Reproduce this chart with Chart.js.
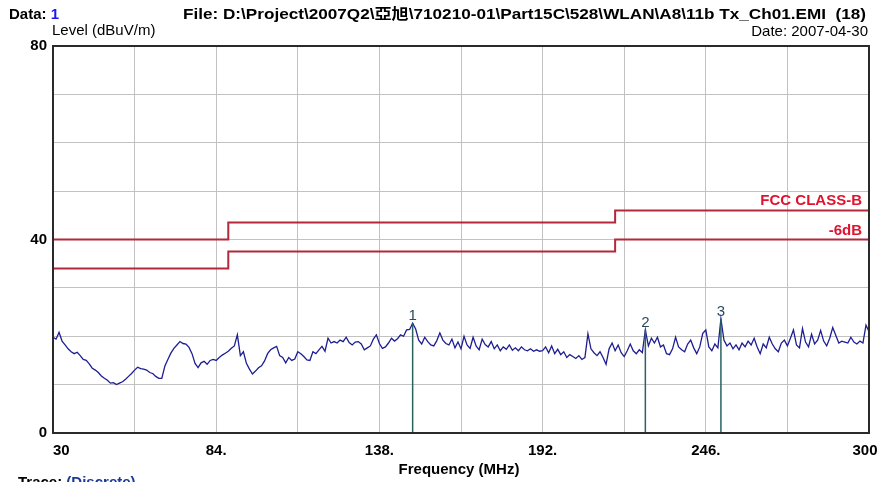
<!DOCTYPE html>
<html>
<head>
<meta charset="utf-8">
<script src="https://cdn.jsdelivr.net/npm/chart.js@4.4.0/dist/chart.umd.min.js"></script>
<style>
  html, body { margin: 0; padding: 0; background: #fff; }
  canvas { display: block; }
</style>
</head>
<body>
<canvas id="emiChart" width="881" height="482"></canvas>
<script>
// sweep: 30 MHz .. 300 MHz, one reading per MHz
const sweepStart = 30;
const sweepStep = 1;
const traceLevels = [
  19.8, 19.4, 20.8, 19.0, 18.2, 17.4, 16.8, 16.4, 16.7, 16.0, // 30
  15.2, 15.0, 14.3, 13.4, 13.0, 12.5, 11.8, 11.3, 10.9, 10.3, // 40
  10.4, 10.0, 10.3, 10.6, 11.1, 11.7, 12.3, 13.0, 13.6, 13.3, // 50
  13.2, 13.0, 12.5, 12.3, 11.7, 11.3, 11.3, 13.8, 15.2, 16.5, // 60
  17.5, 18.2, 18.9, 18.5, 18.4, 17.7, 16.4, 14.4, 13.5, 14.5, // 70
  14.8, 14.2, 15.0, 15.2, 15.0, 15.6, 16.1, 16.5, 16.9, 17.5, // 80
  18.0, 20.3, 16.0, 16.8, 14.4, 13.2, 12.2, 12.8, 13.5, 13.9, // 90
  14.9, 16.4, 17.2, 17.6, 17.9, 16.0, 15.6, 14.5, 15.6, 15.0, // 100
  15.3, 16.8, 16.4, 15.8, 15.1, 15.0, 16.8, 16.4, 17.2, 17.9, // 110
  16.9, 19.6, 18.6, 18.9, 18.6, 19.2, 18.9, 19.8, 18.7, 18.2, // 120
  18.8, 18.9, 18.4, 17.2, 17.6, 18.0, 19.4, 20.3, 18.5, 17.5, // 130
  17.8, 18.6, 19.6, 19.0, 19.5, 20.3, 20.0, 21.3, 21.4, 22.7, // 140
  21.5, 19.2, 18.4, 19.8, 18.9, 18.2, 18.0, 19.1, 20.7, 19.2, // 150
  18.5, 18.2, 19.4, 17.6, 18.8, 17.4, 20.0, 18.2, 17.5, 19.8, // 160
  18.0, 17.2, 19.4, 18.3, 17.8, 18.9, 17.4, 18.2, 17.0, 17.8, // 170
  17.3, 18.2, 17.1, 17.6, 17.0, 17.8, 17.2, 17.0, 17.4, 16.9, // 180
  17.2, 16.9, 17.0, 17.8, 16.6, 18.0, 16.4, 17.3, 16.2, 16.8, // 190
  15.6, 16.2, 15.8, 15.4, 16.0, 15.2, 15.6, 20.5, 17.4, 16.6, // 200
  16.0, 16.8, 15.6, 14.2, 17.4, 18.6, 17.0, 18.2, 16.6, 15.8, // 210
  17.0, 18.4, 17.0, 16.4, 17.2, 16.6, 21.3, 18.0, 19.6, 18.6, // 220
  19.8, 17.8, 18.2, 16.4, 16.2, 17.4, 19.8, 17.8, 17.2, 16.8, // 230
  18.4, 19.2, 17.6, 16.4, 17.8, 20.6, 21.3, 17.8, 17.0, 18.4, // 240
  17.6, 23.6, 19.2, 18.0, 18.6, 17.4, 18.2, 17.2, 18.6, 17.8, // 250
  19.0, 18.2, 19.6, 17.8, 16.4, 18.4, 17.6, 19.8, 18.4, 17.4, // 260
  16.8, 18.6, 19.2, 18.0, 19.6, 21.3, 18.2, 17.6, 21.6, 18.8, // 270
  17.8, 20.4, 18.4, 19.2, 21.2, 19.0, 18.0, 19.6, 21.8, 20.2, // 280
  18.6, 19.0, 18.8, 18.6, 19.8, 18.8, 18.4, 19.0, 18.6, 22.3, // 290
  21.0                                                        // 300
];

// FCC part 15 class B limit and the -6dB margin line (step edges in MHz)
const limitFreqs = [30, 88, 216, 300];
const fccClassB = [40, 43.5, 46, 46];
const margin6dB = [34, 37.5, 40, 40];

// marker peaks
const markerFreqs = [149, 226, 251];
const markerLevels = [22.7, 21.3, 23.6];
const markerNames = ['1', '2', '3'];

const xTickLabels = { 30: '30', 84: '84.', 138: '138.', 192: '192.', 246: '246.', 300: '300' };
const yTickLabels = [0, 40, 80];

const FONT = '"Liberation Sans", Arial, "Noto Sans CJK TC", sans-serif';

const traceData = traceLevels.map((v, i) => ({ x: sweepStart + i * sweepStep, y: v }));
const stepData = (levels) => limitFreqs.map((f, i) => ({ x: f, y: levels[i] }));

const markerSets = markerFreqs.map((f, i) => ({
  data: [{ x: f, y: 0 }, { x: f, y: markerLevels[i] }],
  borderColor: '#2a6262',
  borderWidth: 1.5,
  order: 0
}));

// frame, labels and header text
const decorations = {
  id: 'decorations',
  afterDraw(chart) {
    const c = chart.ctx;
    const area = chart.chartArea;
    const xs = chart.scales.x;
    const ys = chart.scales.y;

    c.save();
    c.strokeStyle = '#2a2a2a';
    c.lineWidth = 2;
    c.strokeRect(area.left, area.top, area.right - area.left, area.bottom - area.top);

    // x tick labels
    c.fillStyle = '#000';
    c.font = 'bold 15px ' + FONT;
    c.textBaseline = 'top';
    xs.ticks.forEach((t, i) => {
      const lbl = xTickLabels[t.value];
      if (!lbl) return;
      c.textAlign = i === 0 ? 'left' : 'center';
      c.fillText(lbl, xs.getPixelForValue(t.value) - (i === xs.ticks.length - 1 ? 4 : 0), area.bottom + 10);
    });

    // marker numbers
    c.font = '15px ' + FONT;
    c.fillStyle = '#2b4a5a';
    c.textAlign = 'center';
    c.textBaseline = 'alphabetic';
    markerFreqs.forEach((f, i) => {
      c.fillText(markerNames[i], xs.getPixelForValue(f), ys.getPixelForValue(markerLevels[i]) - 3);
    });

    // limit line names
    c.font = 'bold 15px ' + FONT;
    c.fillStyle = '#e0122e';
    c.textAlign = 'right';
    c.fillText('FCC CLASS-B', area.right - 7, ys.getPixelForValue(fccClassB[3]) - 5);
    c.fillText('-6dB', area.right - 7, ys.getPixelForValue(margin6dB[3]) - 5);

    // header
    c.textAlign = 'left';
    c.fillStyle = '#000';
    c.font = 'bold 15px ' + FONT;
    c.fillText('Data: ', 9, 19);
    c.fillStyle = '#1a1af0';
    c.fillText('1', 9 + c.measureText('Data: ').width, 19);

    const fileText = 'File: D:\\Project\\2007Q2\\亞旭\\710210-01\\Part15C\\528\\WLAN\\A8\\11b Tx_Ch01.EMI  (18)';
    c.fillStyle = '#000';
    const w = c.measureText(fileText).width;
    c.save();
    c.translate(183, 19);
    c.scale(683 / w, 1);
    c.fillText(fileText, 0, 0);
    c.restore();

    c.font = '15px ' + FONT;
    c.fillText('Level (dBuV/m)', 52, 35);
    c.textAlign = 'right';
    c.fillText('Date: 2007-04-30', 868, 36);

    c.font = 'bold 15px ' + FONT;
    c.textAlign = 'center';
    c.fillText('Frequency (MHz)', 459, 474);

    c.textAlign = 'left';
    c.fillText('Trace: ', 18, 487);
    c.fillStyle = '#1b3a9c';
    c.fillText('(Discrete)', 18 + c.measureText('Trace: ').width, 487);
    c.restore();
  }
};

new Chart(document.getElementById('emiChart'), {
  type: 'line',
  data: {
    datasets: [
      ...markerSets,
      {
        data: traceData,
        borderColor: '#1e1e92',
        borderWidth: 1.3,
        order: 1
      },
      {
        data: stepData(fccClassB),
        stepped: 'before',
        borderColor: '#b3283a',
        borderWidth: 2,
        order: 2
      },
      {
        data: stepData(margin6dB),
        stepped: 'before',
        borderColor: '#b3283a',
        borderWidth: 2,
        order: 2
      }
    ]
  },
  options: {
    responsive: false,
    animation: false,
    devicePixelRatio: 1,
    layout: { padding: { top: 46, right: 12, left: 0, bottom: 0 } },
    elements: { point: { radius: 0 }, line: { tension: 0 } },
    plugins: { legend: { display: false }, tooltip: { enabled: false } },
    scales: {
      x: {
        type: 'linear',
        min: 30,
        max: 300,
        ticks: { stepSize: 27, display: false },
        grid: { color: '#c2c2c2', lineWidth: 1, drawTicks: false },
        border: { color: '#2a2a2a', width: 2 },
        afterFit(s) { s.height = 49; }
      },
      y: {
        min: 0,
        max: 80,
        ticks: {
          stepSize: 10,
          padding: 6,
          color: '#000',
          font: { family: FONT, size: 15, weight: 'bold' },
          callback: (v) => yTickLabels.includes(v) ? String(v) : ''
        },
        grid: { color: '#c2c2c2', lineWidth: 1, drawTicks: false },
        border: { color: '#2a2a2a', width: 2 },
        afterFit(s) { s.width = 53; }
      }
    }
  },
  plugins: [decorations]
});
</script>
</body>
</html>
